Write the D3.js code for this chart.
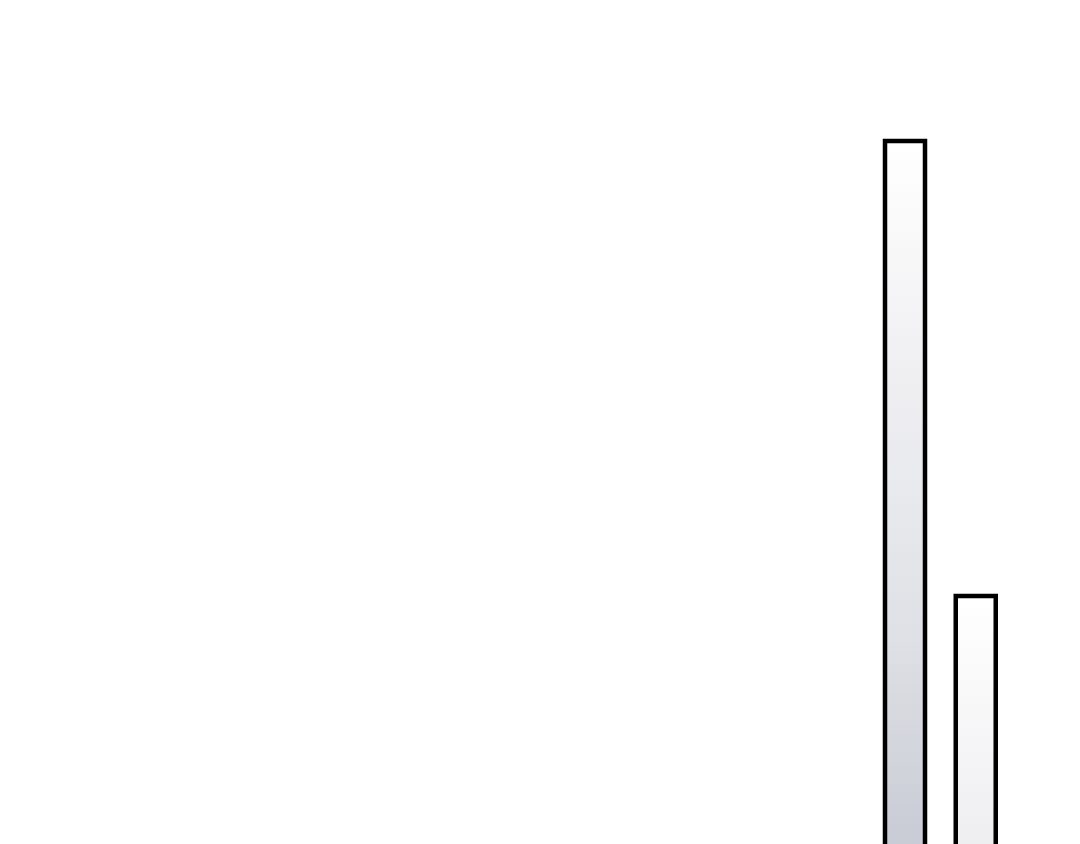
<!DOCTYPE html>
<html>
<head>
<meta charset="utf-8">
<script src="https://cdn.jsdelivr.net/npm/d3@7"></script>
<style>
  html, body { margin: 0; padding: 0; background: #ffffff; overflow: hidden; }
  svg { display: block; }
</style>
</head>
<body>
<svg id="chart" width="1080" height="844"></svg>
<script>
const categories = ["A", "B"];
const values = [900, 575];

const W = 1080, H = 844;
const svg = d3.select("#chart");

const x = d3.scalePoint().domain(categories).range([905, 975.75]);
const y = d3.scaleLinear().domain([0, 1000]).range([1401, 1]);
const barW = 40;

const defs = svg.append("defs");
const data = categories.map((c, i) => ({ c, v: values[i], i }));

data.forEach(d => {
  const top = y(d.v);
  const g = defs.append("linearGradient")
    .attr("id", "grad" + d.i)
    .attr("gradientUnits", "userSpaceOnUse")
    .attr("x1", 0).attr("x2", 0)
    .attr("y1", top).attr("y2", top + 1000);
  [[0, "#ffffff"], [0.25, "#eeeef1"], [0.36, "#e8e9ed"], [0.5, "#dfe0e5"], [0.7, "#c9ccd5"], [1, "#aeb2c0"]]
    .forEach(([o, c]) => g.append("stop").attr("offset", o).attr("stop-color", c));
});

svg.selectAll("rect.bar")
  .data(data)
  .join("rect")
  .attr("class", "bar")
  .attr("x", d => x(d.c) - barW / 2)
  .attr("y", d => y(d.v))
  .attr("width", barW)
  .attr("height", d => y(0) - y(d.v))
  .attr("fill", d => "url(#grad" + d.i + ")")
  .attr("stroke", "#000000")
  .attr("stroke-width", 4.5);
</script>
</body>
</html>
